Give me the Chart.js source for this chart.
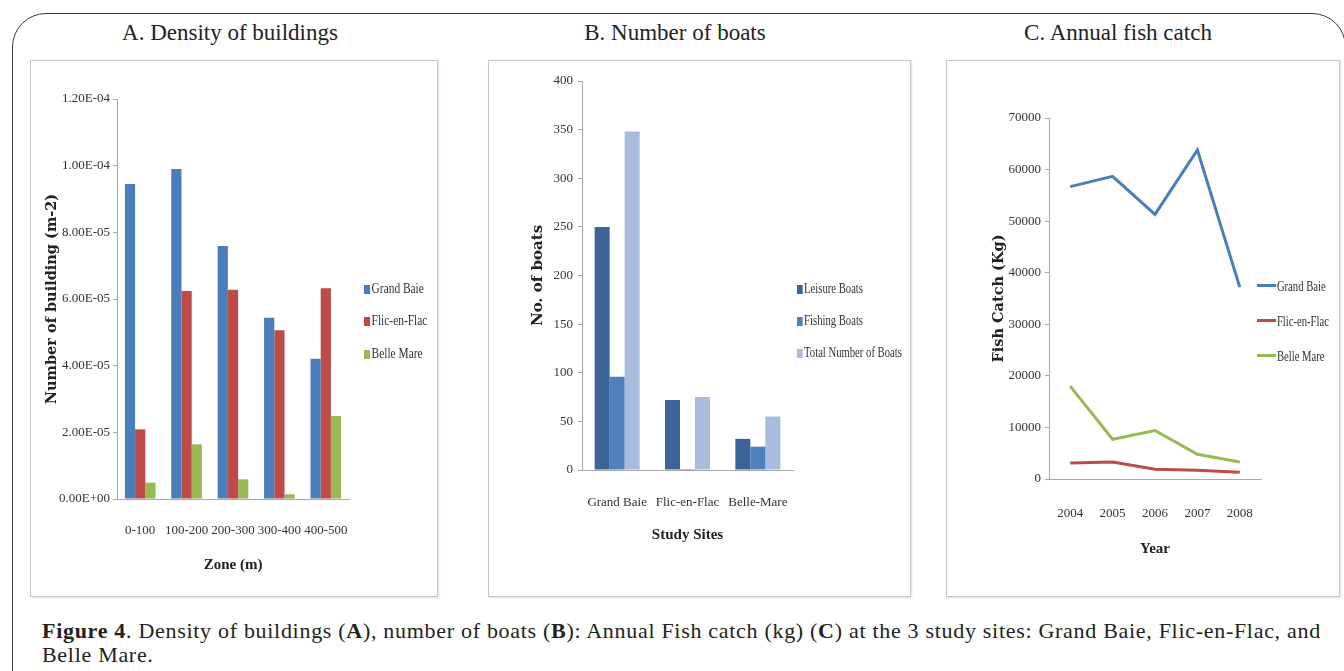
<!DOCTYPE html>
<html>
<head>
<meta charset="utf-8">
<script src="https://cdn.jsdelivr.net/npm/chart.js@4"></script>
<style>
  body { margin: 0; background: #fff; width: 1344px; height: 671px; overflow: hidden; position: relative;
         font-family: 'Liberation Serif', serif; color: #222; }
  .outer { position: absolute; left: 12px; top: 13px; width: 1332px; height: 720px;
           border: 1.5px solid #3a3a3a; border-radius: 34px; }
  .ptitle { position: absolute; top: 20px; width: 300px; margin-left: -150px; text-align: center; font-size: 23px; color: #222; }
  .panel { position: absolute; top: 60px; height: 535px; border: 1px solid #c6c6c6; background: #fff;
           box-shadow: 1px 1px 2px rgba(0,0,0,0.12); }
  .panel canvas { position: absolute; left: 0; top: 0; }
  .leg { position: absolute; font-size: 15px; color: #333; white-space: nowrap; transform-origin: left center; line-height: 16px; }
  .leg i { display: inline-block; width: 8px; height: 9px; margin-right: 2px; vertical-align: -1px; }
  .leg b { display: inline-block; width: 27px; height: 3px; margin-right: 1px; vertical-align: 4px; }
  .caption { position: absolute; left: 42px; top: 619px; font-size: 22px; letter-spacing: 0.7px; line-height: 24px;
             color: #222; width: 1296px; }
</style>
</head>
<body>
<div class="outer"></div>

<div class="ptitle" style="left:230px">A. Density of buildings</div>
<div class="ptitle" style="left:675px">B. Number of boats</div>
<div class="ptitle" style="left:1118px">C. Annual fish catch</div>

<div class="panel" style="left:30px;width:406px"><canvas id="chart-a" width="406" height="535"></canvas></div>
<div class="panel" style="left:488px;width:421px"><canvas id="chart-b" width="421" height="535"></canvas></div>
<div class="panel" style="left:946px;width:392px"><canvas id="chart-c" width="392" height="535"></canvas></div>

<div id="legends"></div>

<div class="caption"><b>Figure 4</b>. Density of buildings (<b>A</b>), number of boats (<b>B</b>): Annual Fish catch (kg) (<b>C</b>) at the 3 study sites: Grand Baie, Flic-en-Flac, and Belle Mare.</div>

<script>
/* ── Datos ─────────────────────────────────────── */
const zones       = ['0-100', '100-200', '200-300', '300-400', '400-500'];
const densGrand   = [9.45e-5, 9.9e-5, 7.59e-5, 5.44e-5, 4.21e-5];
const densFlic    = [2.09e-5, 6.24e-5, 6.28e-5, 5.06e-5, 6.32e-5];
const densBelle   = [4.9e-6, 1.64e-5, 5.9e-6, 1.4e-6, 2.49e-5];
const densLabels  = ['Grand Baie', 'Flic-en-Flac', 'Belle Mare'];

const sites       = ['Grand Baie', 'Flic-en-Flac', 'Belle-Mare'];
const boatLeisure = [250, 72, 32];
const boatFishing = [96, 1, 24];
const boatTotal   = [348, 75, 55];
const boatLabels  = ['Leisure Boats', 'Fishing Boats', 'Total Number of Boats'];

const years       = ['2004', '2005', '2006', '2007', '2008'];
const fishGrand   = [56700, 58700, 51300, 63800, 37200];
const fishFlic    = [3100, 3300, 1900, 1700, 1300];
const fishBelle   = [18000, 7700, 9400, 4800, 3300];
const fishLabels  = ['Grand Baie', 'Flic-en-Flac', 'Belle Mare'];

const C_BLUE = '#4a7ebb', C_RED = '#be4b48', C_GREEN = '#98b954';
const B_DARK = '#3d6499', B_MID = '#4f81bd', B_LIGHT = '#a8bcdd';

Chart.defaults.animation = false;
Chart.defaults.font.family = "'Liberation Serif', serif";
Chart.defaults.color = '#333';

const tickFont  = { family: "'Liberation Serif', serif", size: 13 };
const xTitleFnt = { family: "'Liberation Serif', serif", size: 15, weight: 'bold' };

function sci(v) {
  if (Math.abs(v) < 1e-12) return '0.00E+00';
  const [m, e] = v.toExponential(2).split('e');
  return m + 'E' + e[0] + e.slice(1).padStart(2, '0');
}

// ejes con tamaños fijos para colocar el área de trazado
function makeScales(o) {
  return {
    x: {
      offset: true,
      grid: { display: true, drawOnChartArea: false, drawTicks: false },
      border: { display: true, color: '#a8a8a8', width: 1 },
      ticks: { font: tickFont, color: '#333', padding: o.xPad, maxRotation: 0 },
      title: { display: true, text: o.xTitle, font: xTitleFnt, color: '#222', padding: { top: 0, bottom: o.xTitlePad } },
      afterFit: s => { s.height = o.xH; },
    },
    y: {
      min: 0, max: o.max,
      grid: { display: true, drawOnChartArea: false, drawTicks: true, tickLength: 4, color: '#a8a8a8' },
      border: { display: true, color: '#a8a8a8', width: 1 },
      ticks: { font: tickFont, color: '#333', stepSize: o.step, padding: o.yPad, callback: o.fmt || (v => v) },
      title: { display: true, text: o.yTitle, color: '#222', padding: { top: o.yTitlePad, bottom: 0 },
               font: { family: "'DejaVu Serif', serif", size: o.yTitleSize, weight: 'bold' } },
      afterFit: s => { s.width = o.yW; },
    },
  };
}

const baseOpts = {
  responsive: false,
  plugins: { legend: { display: false }, tooltip: { enabled: false } },
};

// ── A. Densidad de edificios ──────────────
new Chart(document.getElementById('chart-a'), {
  type: 'bar',
  data: {
    labels: zones,
    datasets: [
      { label: densLabels[0], data: densGrand, backgroundColor: C_BLUE },
      { label: densLabels[1], data: densFlic,  backgroundColor: C_RED },
      { label: densLabels[2], data: densBelle, backgroundColor: C_GREEN },
    ],
  },
  options: {
    ...baseOpts,
    layout: { padding: { top: 38, right: 88, left: 0, bottom: 0 } },
    datasets: { bar: { categoryPercentage: 0.66, barPercentage: 1 } },
    scales: makeScales({ max: 1.2e-4, step: 2e-5, fmt: sci, yW: 86, xH: 97, xPad: 24, yPad: 3,
                         xTitle: 'Zone (m)', yTitle: 'Number of building (m-2)', yTitleSize: 14.5,
                         xTitlePad: 22, yTitlePad: 13 }),
  },
});

// ── B. Número de botes ──────────────
new Chart(document.getElementById('chart-b'), {
  type: 'bar',
  data: {
    labels: sites,
    datasets: [
      { label: boatLabels[0], data: boatLeisure, backgroundColor: B_DARK },
      { label: boatLabels[1], data: boatFishing, backgroundColor: B_MID },
      { label: boatLabels[2], data: boatTotal,   backgroundColor: B_LIGHT },
    ],
  },
  options: {
    ...baseOpts,
    layout: { padding: { top: 20, right: 117, left: 0, bottom: 0 } },
    datasets: { bar: { categoryPercentage: 0.64, barPercentage: 1 } },
    scales: makeScales({ max: 400, step: 50, yW: 93, xH: 126, xPad: 25, yPad: 5,
                         xTitle: 'Study Sites', yTitle: 'No. of boats', yTitleSize: 15,
                         xTitlePad: 52, yTitlePad: 40 }),
  },
});

// ── C. Captura anual ──────────────
new Chart(document.getElementById('chart-c'), {
  type: 'line',
  data: {
    labels: years,
    datasets: [
      { label: fishLabels[0], data: fishGrand, borderColor: C_BLUE },
      { label: fishLabels[1], data: fishFlic,  borderColor: C_RED },
      { label: fishLabels[2], data: fishBelle, borderColor: C_GREEN },
    ],
  },
  options: {
    ...baseOpts,
    layout: { padding: { top: 57, right: 78, left: 0, bottom: 0 } },
    elements: { line: { borderWidth: 3, tension: 0 }, point: { radius: 0 } },
    scales: makeScales({ max: 70000, step: 10000, yW: 102, xH: 117, xPad: 27, yPad: 4,
                         xTitle: 'Year', yTitle: 'Fish Catch (Kg)', yTitleSize: 14.5,
                         xTitlePad: 38, yTitlePad: 44 }),
  },
});

/* ── Leyendas ─────────────────────────── */
function legend(x, ys, labels, colors, line, sx) {
  const wrap = document.getElementById('legends');
  labels.forEach((t, i) => {
    const d = document.createElement('div');
    d.className = 'leg';
    d.style.left = x + 'px';
    d.style.top = (ys[i] - 8) + 'px';
    d.style.transform = `scaleX(${sx})`;
    d.innerHTML = (line ? `<b style="background:${colors[i]}"></b>` : `<i style="background:${colors[i]}"></i>`) + t;
    wrap.appendChild(d);
  });
}
legend(364, [288, 320, 353], densLabels, [C_BLUE, C_RED, C_GREEN], false, 0.76);
legend(797, [288, 320, 352], boatLabels, [B_DARK, B_MID, B_LIGHT], false, 0.71);
legend(1257, [286, 321, 356], fishLabels, [C_BLUE, C_RED, C_GREEN], true, 0.71);
</script>
</body>
</html>
